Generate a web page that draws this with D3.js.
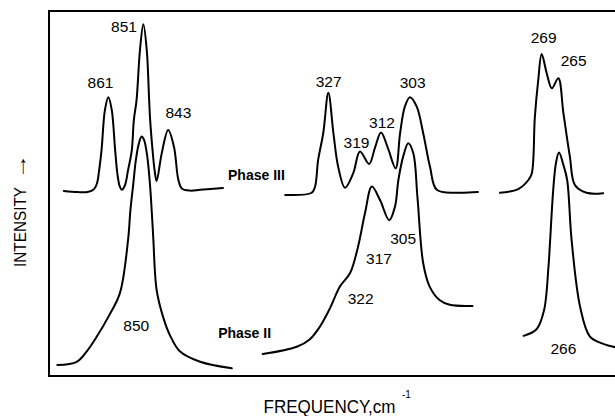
<!DOCTYPE html>
<html>
<head>
<meta charset="utf-8">
<script src="https://cdn.jsdelivr.net/npm/d3@7"></script>
<style>
  html, body { margin: 0; padding: 0; background: #fff; }
  svg { display: block; font-family: "Liberation Sans", Arial, Helvetica, sans-serif; }
</style>
</head>
<body>
<div id="spectra"></div>
<script>
// [frequency (cm-1), intensity (a.u., traces stacked)]
const phaseIII_850 = [
  [874, 50.7], [870, 50.4], [867, 50.4], [865.1, 51.2], [864.2, 52.9], [863.6, 56.4],
  [862.9, 61.9], [861.9, 72.9], [860.9, 76.4], [859.9, 72.9], [858.9, 61.9], [858.2, 55.1],
  [857.5, 51.8], [856.9, 51.0], [856.0, 52.3], [855.1, 56.4], [854.0, 61.9], [853.4, 70.1],
  [852.6, 75.6], [851.6, 89.3], [850.6, 96.4], [849.6, 89.3], [848.9, 75.6], [848.6, 70.1],
  [847.9, 61.9], [847.3, 56.4], [846.7, 53.4], [845.2, 61.0], [843.3, 67.4], [841.6, 62.8],
  [840.3, 53.7], [839.3, 51.4], [836.9, 50.8], [833.9, 51.0], [827.2, 51.5]
];
const phaseII_850 = [
  [875.9, 3.0], [870.2, 3.9], [867.3, 6.7], [864.3, 10.8], [860.9, 16.2], [857.5, 22.7],
  [855.1, 37.3], [854.4, 45.5], [853.6, 52.3], [852.8, 59.2], [851.9, 63.8], [851.1, 65.6],
  [850.4, 64.7], [849.5, 60.5], [848.6, 51.8], [848.1, 44.6], [847.7, 38.1], [846.7, 23.6],
  [844.8, 16.2], [842.8, 11.2], [839.8, 6.7], [833.9, 3.9], [824.6, 2.1]
];
const phaseIII_310 = [
  [339.6, 49.6], [331.8, 50.2], [330.8, 51.9], [329.9, 59.2], [328.4, 66.5], [326.9, 77.6],
  [325.4, 66.5], [324.0, 57.3], [322.0, 51.6], [319.6, 55.5], [317.6, 61.5], [314.9, 58.1],
  [313.2, 62.5], [311.4, 66.7], [309.4, 62.5], [307.1, 56.9], [305.8, 66.5], [304.4, 73.8],
  [302.9, 76.4], [300.9, 73.8], [299.0, 66.5], [297.0, 57.3], [295.0, 51.0], [289.1, 50.2],
  [282.9, 50.4]
];
const phaseII_310 = [
  [346.2, 6.0], [336.2, 8.0], [332.3, 10.1], [329.4, 13.5], [326.4, 18.6], [323.5, 24.5],
  [320.5, 28.2], [318.2, 35.3], [316.1, 44.7], [314.1, 51.9], [311.7, 48.2], [309.0, 42.7],
  [307.3, 46.4], [306.3, 53.7], [304.9, 60.1], [303.4, 63.8], [301.9, 61.0], [300.7, 49.1],
  [299.0, 30.9], [297.1, 24.5], [294.2, 20.8], [291.2, 19.5], [284.5, 19.2]
];
const phaseIII_267 = [
  [281.4, 50.2], [276.0, 51.2], [273.0, 53.7], [272.0, 55.5], [271.1, 71.0], [270.1, 81.1],
  [269.1, 88.2], [267.6, 82.9], [266.1, 78.8], [264.2, 81.6], [262.7, 72.0], [260.8, 60.1],
  [259.3, 52.3], [255.9, 50.2], [251.0, 50.1]
];
const phaseII_267 = [
  [274.4, 11.0], [270.6, 12.8], [268.4, 18.0], [267.1, 29.9], [266.6, 37.3],
  [265.7, 51.0], [264.9, 58.3], [264.0, 61.2], [262.7, 57.8], [261.6, 53.7], [260.3, 37.3],
  [257.8, 19.0], [254.9, 10.8], [251.0, 8.8], [247.5, 7.9]
];

// broken frequency axis: one domain per panel
const segmentDomains = [[876, 824], [346, 282], [282, 247]];
const traces = [
  { seg: 0, data: phaseIII_850 }, { seg: 0, data: phaseII_850 },
  { seg: 1, data: phaseIII_310 }, { seg: 1, data: phaseII_310 },
  { seg: 2, data: phaseIII_267 }, { seg: 2, data: phaseII_267 }
];

// peak labels: text, segment, frequency, intensity
const peakLabels = [
  ['861', 0, 863.2, 78.9], ['851', 0, 856.3, 94.2], ['843', 0, 840.3, 70.6], ['850', 0, 852.7, 12.3],
  ['327', 1, 326.8, 79.3], ['319', 1, 318.6, 62.4], ['312', 1, 311.1, 67.9], ['303', 1, 302.1, 79.0],
  ['305', 1, 304.9, 36.2], ['317', 1, 312.0, 30.7], ['322', 1, 317.4, 19.6],
  ['269', 2, 268.5, 91.3], ['265', 2, 259.7, 85.0], ['266', 2, 262.7, 5.9]
];
const phaseLabels = [['Phase III', 0, 825.7, 53.7], ['Phase II', 0, 828.6, 10.3]];

function drawSpectra() {
  const width = 615;
  const height = 416;
  const frameLeft = 49;
  const frameTop = 11;
  const frameBottom = 376;
  const pxPerCm = 3.4;
  const segStarts = [57, 263.4, 497.8];

  const svg = d3.select('#spectra').append('svg')
      .attr('width', width)
      .attr('height', height);

  const y = d3.scaleLinear().domain([0, 100]).range([frameBottom, frameTop]);
  const xScales = segmentDomains.map((dom, i) =>
    d3.scaleLinear().domain(dom).range([segStarts[i], segStarts[i] + (dom[0] - dom[1]) * pxPerCm]));

  // frame (open on the right)
  svg.append('path')
      .attr('d', `M${width},${frameTop}H${frameLeft}V${frameBottom}H${width}`)
      .attr('fill', 'none')
      .attr('stroke', '#000')
      .attr('stroke-width', 2);

  const line = seg => d3.line()
      .x(d => xScales[seg](d[0]))
      .y(d => y(d[1]))
      .curve(d3.curveCatmullRom.alpha(0.5));

  svg.selectAll('path.trace')
      .data(traces)
      .enter()
      .append('path')
      .attr('class', 'trace')
      .attr('d', t => line(t.seg)(t.data))
      .attr('fill', 'none')
      .attr('stroke', '#000')
      .attr('stroke-width', 2)
      .attr('stroke-linejoin', 'round')
      .attr('stroke-linecap', 'round');

  svg.selectAll('text.peak')
      .data(peakLabels)
      .enter()
      .append('text')
      .attr('class', 'peak')
      .attr('x', d => xScales[d[1]](d[2]))
      .attr('y', d => y(d[3]))
      .attr('text-anchor', 'middle')
      .style('font-size', '15.5px')
      .text(d => d[0]);

  svg.selectAll('text.phase')
      .data(phaseLabels)
      .enter()
      .append('text')
      .attr('class', 'phase')
      .attr('x', d => xScales[d[1]](d[2]))
      .attr('y', d => y(d[3]))
      .style('font-size', '14px')
      .style('font-weight', 'bold')
      .text(d => d[0]);

  // axis titles
  svg.append('text')
      .attr('x', 263.5)
      .attr('y', 412.5)
      .attr('textLength', 132)
      .attr('lengthAdjust', 'spacingAndGlyphs')
      .style('font-size', '18px')
      .text('FREQUENCY,cm');
  svg.append('text')
      .attr('x', 402)
      .attr('y', 398)
      .style('font-size', '10px')
      .text('-1');

  svg.append('text')
      .attr('transform', 'translate(26,267) rotate(-90)')
      .attr('textLength', 80)
      .attr('lengthAdjust', 'spacingAndGlyphs')
      .style('font-size', '16.5px')
      .text('INTENSITY');
  svg.append('text')
      .attr('transform', 'translate(25.5,179) rotate(-90) scale(1.7,1.2)')
      .attr('fill', '#000')
      .style('font-size', '15px')
      .text('\u2192');
}

drawSpectra();
</script>
</body>
</html>
